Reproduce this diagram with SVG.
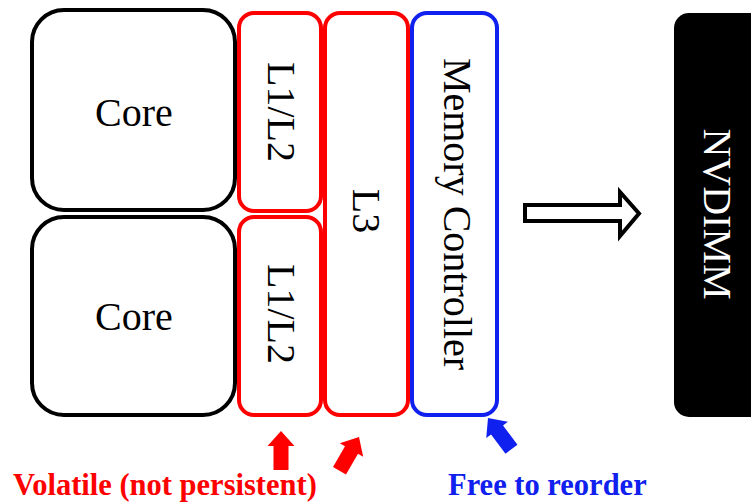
<svg xmlns="http://www.w3.org/2000/svg" width="751" height="504" viewBox="0 0 751 504">
<style>
.box{fill:#fff;stroke-width:4}
.core{stroke:#000}
.red{stroke:#ff0000}
.blue{stroke:#1020ee}
.lbl{font-family:"Liberation Serif","Times New Roman",serif;font-size:40px;fill:#000;text-anchor:middle}
.note{font-family:"Liberation Serif","Times New Roman",serif;font-size:30.5px;font-weight:bold}
</style>
<defs>
<polygon id="arw" points="0,0 13.5,15 7.5,15 7.5,39 -7.5,39 -7.5,15 -13.5,15"/>
</defs>
<g id="core1"><rect class="box core" x="32" y="10" width="203" height="200" rx="32"/><text class="lbl" x="134" y="126">Core</text></g>
<g id="core2"><rect class="box core" x="32" y="217" width="203" height="198" rx="32"/><text class="lbl" x="134" y="330">Core</text></g>
<g id="l12a"><rect class="box red" x="239" y="13" width="82" height="198" rx="15"/><text class="lbl" transform="translate(268,112) rotate(90)">L1/L2</text></g>
<g id="l12b"><rect class="box red" x="239" y="217" width="82" height="198" rx="15"/><text class="lbl" transform="translate(268,314) rotate(90)">L1/L2</text></g>
<g id="l3"><rect class="box red" x="325" y="13" width="83" height="402" rx="15"/><text class="lbl" transform="translate(353,211) rotate(90)">L3</text></g>
<g id="mc"><rect class="box blue" x="412" y="13" width="85" height="402" rx="15"/><text class="lbl" transform="translate(444,214) rotate(90)">Memory Controller</text></g>
<g id="nvdimm"><rect x="674" y="13" width="100" height="404" rx="15" fill="#000"/><text class="lbl" style="fill:#fff" transform="translate(704,214) rotate(90)">NVDIMM</text></g>
<g id="connectors">
<path d="M525,205 H620 V192 L639,213.5 L620,236 V221 H525 Z" fill="#fff" stroke="#000" stroke-width="4" stroke-linejoin="miter"/>
<use href="#arw" fill="#ff0000" transform="translate(281,431)"/>
<use href="#arw" fill="#ff0000" transform="translate(359,437) rotate(30)"/>
<use href="#arw" fill="#1020ee" transform="translate(488,418) rotate(-37)"/>
</g>
<g id="notes">
<text class="note" x="13" y="495" fill="#ff0000">Volatile (not persistent)</text>
<text class="note" x="448" y="495" fill="#1020ee">Free to reorder</text>
</g>
</svg>
